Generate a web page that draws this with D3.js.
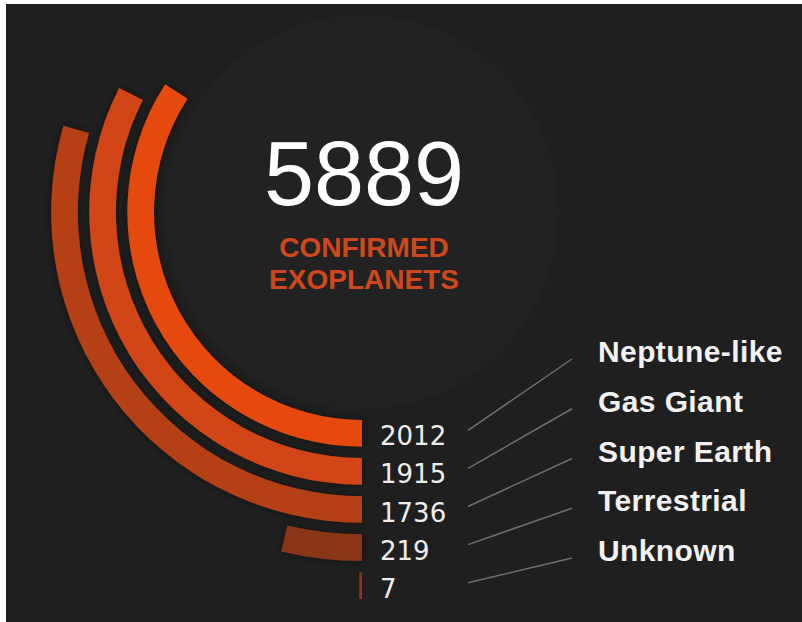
<!DOCTYPE html>
<html>
<head>
<meta charset="utf-8">
<script src="https://cdn.jsdelivr.net/npm/d3@7"></script>
<style>
  body { margin: 0; background: #fff; }
  svg { display: block; }
</style>
</head>
<body>
<div id="chart"></div>
<script>
// data
var categories = ["Neptune-like", "Gas Giant", "Super Earth", "Terrestrial", "Unknown"];
var counts = [2012, 1915, 1736, 219, 7];
var total = 5889;
var totalLabel = ["CONFIRMED", "EXOPLANETS"];

var colors = ["#e64a10", "#d24514", "#b63f18", "#8a3418", "#8a3418"];

var width = 802, height = 622;
var cx = 362, cy = 212;

var svg = d3.select("#chart")
  .append("svg")
    .attr("width", width)
    .attr("height", height);

// dark panel (reference has a thin white edge top/left)
svg.append("rect")
  .attr("x", 6).attr("y", 4)
  .attr("width", width - 6).attr("height", height - 4)
  .attr("fill", "#1f1f1f");

var defs = svg.append("defs");
defs.append("filter")
    .attr("id", "shadow")
    .attr("x", "-20%").attr("y", "-20%")
    .attr("width", "140%").attr("height", "140%")
  .append("feDropShadow")
    .attr("dx", 0).attr("dy", 0)
    .attr("stdDeviation", 4)
    .attr("flood-color", "#000")
    .attr("flood-opacity", 0.45);

var g = svg.append("g")
  .attr("transform", "translate(" + cx + "," + cy + ")");

// radial band for each category
var r = d3.scaleBand()
  .domain(categories)
  .range([208, 387])
  .paddingInner(0.3)
  .paddingOuter(0);

// angle: share of the total, starting at the bottom, going clockwise
var a = d3.scaleLinear()
  .domain([0, total])
  .range([0, 2 * Math.PI]);

var color = d3.scaleOrdinal().domain(categories).range(colors);

// faint disc behind the number
g.append("circle")
  .attr("r", r(categories[0]) - 11)
  .attr("fill", "#222222");

var arc = d3.arc()
  .innerRadius(function(d) { return r(d.cat); })
  .outerRadius(function(d) { return r(d.cat) + r.bandwidth(); })
  .startAngle(Math.PI)
  .endAngle(function(d) { return Math.PI + a(d.value); });

var rows = categories.map(function(c, i) { return {cat: c, value: counts[i]}; });

g.selectAll("path.bar")
  .data(rows)
  .enter()
  .append("path")
    .attr("class", "bar")
    .attr("d", arc)
    .attr("fill", function(d) { return color(d.cat); })
    .attr("filter", "url(#shadow)");

// value labels at the end of each bar
g.selectAll("text.val")
  .data(rows)
  .enter()
  .append("text")
    .attr("class", "val")
    .attr("x", 18)
    .attr("y", function(d) { return r(d.cat) + r.bandwidth() / 2 + 12; })
    .attr("fill", "#eeeeee")
    .style("font-family", "DejaVu Sans")
    .style("font-size", "26px")
    .text(function(d) { return d.value; });

// category labels on the right
var labelY = d3.scalePoint()
  .domain(categories)
  .range([150, 349]);

g.selectAll("line.lead")
  .data(rows)
  .enter()
  .append("line")
    .attr("class", "lead")
    .attr("x1", 106)
    .attr("y1", function(d) { return r(d.cat) + r.bandwidth() / 2 - 3; })
    .attr("x2", 210)
    .attr("y2", function(d) { return labelY(d.cat) - 3; })
    .attr("stroke", "#6f6f6f")
    .attr("stroke-width", 1.5);

g.selectAll("text.cat")
  .data(rows)
  .enter()
  .append("text")
    .attr("class", "cat")
    .attr("x", 236)
    .attr("y", function(d) { return labelY(d.cat); })
    .attr("fill", "#f2f2f2")
    .style("font-family", "Liberation Sans, Arial, sans-serif")
    .style("font-weight", "bold")
    .style("font-size", "30px")
    .style("letter-spacing", "0.4px")
    .text(function(d) { return d.cat; });

// centre total
g.append("text")
  .attr("x", 2)
  .attr("y", -7)
  .attr("text-anchor", "middle")
  .attr("fill", "#ffffff")
  .style("font-family", "Liberation Sans, Arial, sans-serif")
  .style("font-size", "90px")
  .text(total);

g.selectAll("text.sub")
  .data(totalLabel)
  .enter()
  .append("text")
    .attr("class", "sub")
    .attr("x", 2)
    .attr("y", function(d, i) { return 45 + i * 32; })
    .attr("text-anchor", "middle")
    .attr("fill", "#cf481d")
    .style("font-family", "Liberation Sans, Arial, sans-serif")
    .style("font-weight", "bold")
    .style("font-size", "28px")
    .text(function(d) { return d; });
</script>
</body>
</html>
